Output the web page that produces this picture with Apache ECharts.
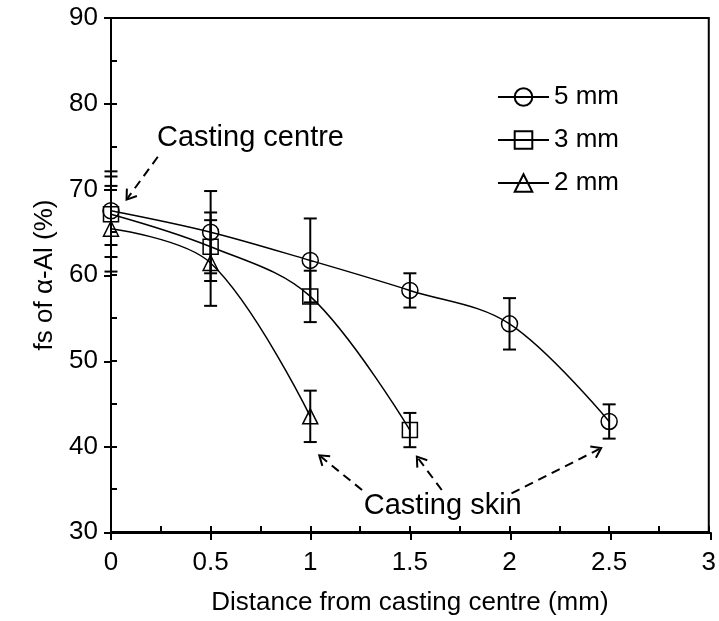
<!DOCTYPE html>
<html>
<head>
<meta charset="utf-8">
<script src="https://cdn.jsdelivr.net/npm/echarts@6/dist/echarts.min.js"></script>
<style>
html, body { margin: 0; padding: 0; background: #fff; }
#main { width: 719px; height: 621px; }
</style>
</head>
<body>
<div id="main"></div>
<script>
// distances (mm) and fraction of alpha-Al (%) with error bar half widths
var xs5 = [0, 0.5, 1, 1.5, 2, 2.5];
var fs5 = [67.5, 65.0, 61.7, 58.2, 54.3, 42.9];
var err5 = [4.0, 4.8, 4.9, 2.0, 3.0, 2.0];

var xs3 = [0, 0.5, 1, 1.5];
var fs3 = [67.1, 63.3, 57.5, 41.9];
var err3 = [5.0, 4.0, 3.0, 2.0];

var xs2 = [0, 0.5, 1];
var fs2 = [65.4, 61.4, 43.5];
var err2 = [5.0, 5.0, 3.0];

var seriesNames = ['5 mm', '3 mm', '2 mm'];

// annotation anchors, in data units
var centreLabel = [0.70, 76.0];
var skinLabel = [1.665, 33.0];
var arrows = [
  [[0.235, 73.8], [0.078, 68.8]],
  [[1.26, 34.9], [1.045, 38.95]],
  [[1.66, 34.9], [1.535, 38.8]],
  [[2.01, 34.5], [2.46, 39.8]]
];

var FONT = 'Liberation Sans, Arial, sans-serif';
var chart = echarts.init(document.getElementById('main'));

function pairs(x, v) {
  return x.map(function (xx, i) { return [xx, v[i]]; });
}
function errData(x, v, e) {
  return x.map(function (xx, i) { return [xx, v[i] - e[i], v[i] + e[i]]; });
}

function lineSeries(name, data, symbol, size) {
  return {
    name: name,
    type: 'line',
    data: data,
    smooth: 0.35,
    symbol: symbol,
    symbolSize: size,
    showAllSymbol: true,
    z: 3,
    lineStyle: { color: '#000', width: 1.5 },
    itemStyle: { color: 'rgba(255,255,255,0)', borderColor: '#000', borderWidth: 1.5 },
    emphasis: { disabled: true }
  };
}

function errSeries(data) {
  return {
    type: 'custom',
    silent: true,
    z: 2,
    data: data,
    encode: { x: 0, y: [1, 2] },
    renderItem: function (params, api) {
      var lo = api.coord([api.value(0), api.value(1)]);
      var hi = api.coord([api.value(0), api.value(2)]);
      var w = 6.5;
      var st = { stroke: '#000', lineWidth: 2 };
      return {
        type: 'group',
        children: [
          { type: 'line', shape: { x1: lo[0], y1: lo[1], x2: hi[0], y2: hi[1] }, style: st },
          { type: 'line', shape: { x1: lo[0] - w, y1: lo[1], x2: lo[0] + w, y2: lo[1] }, style: st },
          { type: 'line', shape: { x1: hi[0] - w, y1: hi[1], x2: hi[0] + w, y2: hi[1] }, style: st }
        ]
      };
    }
  };
}

var axisLine = { show: true, lineStyle: { color: '#000', width: 2 } };
var tickStyle = { color: '#000', width: 2 };
var textBase = { fontSize: 26, color: '#000', fontFamily: FONT };

var option = {
  animation: false,
  backgroundColor: '#fff',
  grid: [
    { left: 111, right: 8, top: 18, bottom: 88, show: true, borderColor: '#000', borderWidth: 2 },
    { left: 111, right: 8, top: 18, bottom: 88 }
  ],
  legend: {
    orient: 'vertical',
    left: 497,
    top: 84,
    padding: 0,
    itemWidth: 51,
    itemHeight: 22,
    itemGap: 17,
    data: seriesNames,
    textStyle: { fontSize: 26, color: '#000', fontFamily: FONT }
  },
  xAxis: [
    {
      gridIndex: 0, type: 'value', min: 0, max: 3, interval: 0.5,
      axisLine: axisLine,
      axisTick: { inside: true, length: 6, lineStyle: tickStyle },
      minorTick: { show: true, splitNumber: 2, length: 6, lineStyle: tickStyle },
      splitLine: { show: false },
      axisLabel: Object.assign({ margin: 18 }, textBase),
      name: 'Distance from casting centre (mm)',
      nameLocation: 'middle',
      nameGap: 58,
      nameTextStyle: textBase
    },
    {
      gridIndex: 1, type: 'value', min: 0, max: 3, interval: 0.5,
      axisLine: axisLine,
      axisTick: { inside: false, length: 7, lineStyle: tickStyle },
      splitLine: { show: false },
      axisLabel: { show: false }
    }
  ],
  yAxis: [
    {
      gridIndex: 0, type: 'value', min: 30, max: 90, interval: 10,
      axisLine: axisLine,
      axisTick: { inside: true, length: 6, lineStyle: tickStyle },
      minorTick: { show: true, splitNumber: 2, length: 6, lineStyle: tickStyle },
      splitLine: { show: false },
      axisLabel: Object.assign({ margin: 13 }, textBase),
      name: 'fs of α-Al (%)',
      nameLocation: 'middle',
      nameGap: 52,
      nameTextStyle: textBase
    },
    {
      gridIndex: 1, type: 'value', min: 30, max: 90, interval: 10,
      axisLine: axisLine,
      axisTick: { inside: false, length: 7, lineStyle: tickStyle },
      splitLine: { show: false },
      axisLabel: { show: false }
    }
  ],
  series: [
    errSeries(errData(xs5, fs5, err5)),
    errSeries(errData(xs3, fs3, err3)),
    errSeries(errData(xs2, fs2, err2)),
    lineSeries(seriesNames[0], pairs(xs5, fs5), 'circle', 16),
    lineSeries(seriesNames[1], pairs(xs3, fs3), 'rect', 15),
    lineSeries(seriesNames[2], pairs(xs2, fs2), 'triangle', [15, 15])
  ]
};

chart.setOption(option);

// annotations: dashed arrows with open heads, and the two labels
function px(p) { return chart.convertToPixel({ gridIndex: 0 }, p); }
var elements = [];
arrows.forEach(function (a) {
  var s = px(a[0]), e = px(a[1]);
  var ang = Math.atan2(s[1] - e[1], s[0] - e[0]);
  var len = 11, spread = 0.6;
  elements.push({
    type: 'line', silent: true,
    shape: { x1: s[0], y1: s[1], x2: e[0] + Math.cos(ang) * 2, y2: e[1] + Math.sin(ang) * 2 },
    style: { stroke: '#000', lineWidth: 2, lineDash: [9, 6] }
  });
  elements.push({
    type: 'polyline', silent: true,
    shape: { points: [
      [e[0] + Math.cos(ang + spread) * len, e[1] + Math.sin(ang + spread) * len],
      e,
      [e[0] + Math.cos(ang - spread) * len, e[1] + Math.sin(ang - spread) * len]
    ] },
    style: { stroke: '#000', lineWidth: 2, fill: null }
  });
});
[['Casting centre', centreLabel], ['Casting skin', skinLabel]].forEach(function (t) {
  var p = px(t[1]);
  elements.push({
    type: 'text', silent: true, x: p[0], y: p[1],
    style: { text: t[0], fontSize: 29, fontFamily: FONT, fill: '#000', align: 'center', verticalAlign: 'middle' }
  });
});
chart.setOption({ graphic: elements });
</script>
</body>
</html>
